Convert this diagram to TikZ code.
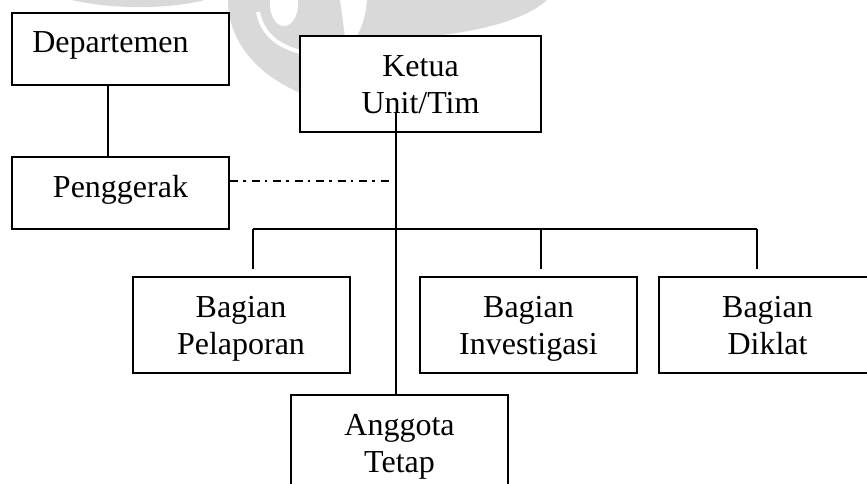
\documentclass[tikz,border=0pt]{standalone}
\usepackage{fontspec}
\setmainfont{Liberation Serif}
\newcommand{\topstrut}{\rule{0pt}{30pt}}
\newcommand{\botstrut}{\rule[-9pt]{0pt}{9pt}}
\newcommand{\botstrutsmall}{\rule[-22pt]{0pt}{22pt}}
\begin{document}
\begin{tikzpicture}[x=1pt,y=-1pt,
  box/.style={draw, line width=2pt, fill=white, inner sep=0pt, align=center,
    font=\fontsize{32}{37}\selectfont},
  small/.style={box, minimum width=217pt, minimum height=72pt},
  big/.style={box, minimum width=217pt, minimum height=96pt},
  wire/.style={line width=1.5pt},
  dashdotline/.style={line width=1.5pt, dash pattern=on 8pt off 5pt on 2.5pt off 6pt},
  wm/.style={fill=black!15, draw=none}]
\useasboundingbox (0,0) rectangle (867,484);
\clip (0,0) rectangle (867,484);
% faint watermark
\fill[wm] (72,0) .. controls (110,9) and (165,10) .. (205,0) -- cycle;
\fill[wm] (228,0) .. controls (228,45) and (262,78) .. (305,95) -- (345,95) -- (345,37) -- (340,0) -- cycle;
\draw[white, line width=4pt] (258,12) .. controls (262,32) and (275,45) .. (300,52);
\fill[white] (284,4) ellipse [x radius=14, y radius=22];
\fill[wm] (367,0) .. controls (366,15) and (362,28) .. (355,40) .. controls (450,40) and (520,25) .. (547,0) -- cycle;
% boxes
\node[small] (dep) at (120.5,49) {\topstrut Departemen\hspace*{20pt}\botstrutsmall};
\node[small] (pen) at (120.5,193) {\topstrut Penggerak\botstrutsmall};
\node[box, minimum width=241pt, minimum height=96pt] (ket) at (420.5,84.5) {\topstrut Ketua\\Unit/Tim\botstrut};
\node[big] (pel) at (241,325) {\topstrut Bagian\\Pelaporan\botstrut};
\node[big] (inv) at (528.5,325) {\topstrut Bagian\\Investigasi\botstrut};
\node[big] (dik) at (767.5,325) {\topstrut Bagian\\Diklat\botstrut};
\node[big] (ang) at (399.5,443) {\topstrut Anggota\\Tetap\botstrut};
% connectors
\coordinate (dx) at (108,0);
\draw[wire] (dep.south -| dx) -- (pen.north -| dx);
\coordinate (dd) at (393,181);
\draw[dashdotline] (pen.east |- dd) -- (dd);
\coordinate (mtop) at (396,113);
\draw[wire] (mtop) -- (ang.north -| mtop);
\coordinate (b1) at (253,229);
\coordinate (b2) at (541,229);
\coordinate (b3) at (757,229);
\coordinate (e1) at (253,269);
\coordinate (e2) at (541,269);
\coordinate (e3) at (757,269);
\draw[wire] (b1) -- (b3);
\draw[wire] (b1) -- (e1);
\draw[wire] (b2) -- (e2);
\draw[wire] (b3) -- (e3);
\end{tikzpicture}
\end{document}
